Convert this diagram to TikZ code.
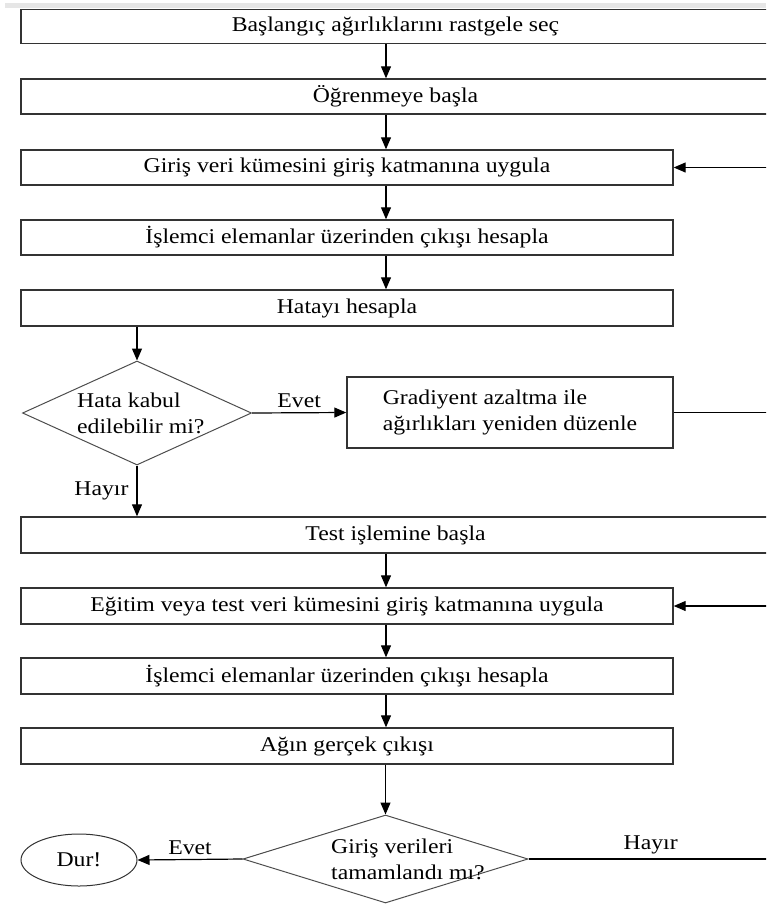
\documentclass[tikz,border=0pt]{standalone}
\usepackage{fontspec}
\setmainfont[FakeStretch=1.13]{Liberation Serif}
\usepackage{xcolor}
\usepackage{tikz}
\usetikzlibrary{positioning, arrows.meta, shapes.geometric, calc}
\definecolor{boxborder}{HTML}{333333}
\definecolor{diamondline}{HTML}{4D4D4D}
\definecolor{topstrip}{HTML}{E6E6E6}

\begin{document}
\begin{tikzpicture}[x=1pt, y=-1pt,
    font=\fontsize{21}{26}\selectfont,
    stepbox/.style={draw=boxborder, line width=1.4pt, minimum height=35pt, inner sep=0pt},
    widebox/.style={stepbox, minimum width=749pt},
    narrowbox/.style={stepbox, minimum width=652pt},
    decision/.style={draw=diamondline, diamond, line width=1pt, inner sep=0pt},
    dtext/.style={anchor=west, align=left, inner sep=0pt},
    flow/.style={draw, line width=1.2pt, -{Triangle[length=12pt, width=10pt]}},
    edgelabel/.style={inner sep=4pt}]
    \useasboundingbox (0,0) rectangle (766,907);
    \clip (0,0) rectangle (766,907);
    \fill[topstrip] (5,3.5) rectangle (766,8);

    \coordinate (spine) at (386,0);
    \coordinate (rloop) at (800,0);

    % training part
    \node[widebox, minimum height=34pt] (init) at (395.5,26.5) {Başlangıç ağırlıklarını rastgele seç};
    \node[widebox] (learn) at (395.5,96.5) {Öğrenmeye başla};
    \node[narrowbox] (applyin) at (347,167.5) {Giriş veri kümesini giriş katmanına uygula};
    \node[narrowbox] (compute) at (347,237.5) {İşlemci elemanlar üzerinden çıkışı hesapla};
    \node[narrowbox, minimum height=36pt] (error) at (347,308) {Hatayı hesapla};
    \node[decision, minimum width=229pt, minimum height=104pt] (errok) at (137,413) {};
    \node[dtext] (errtxt) at (77,413) {Hata kabul\\edilebilir mi?};
    \node[stepbox, minimum width=326pt, minimum height=71pt, align=left] (update) at (510,412.5)
        {Gradiyent azaltma ile\\ağırlıkları yeniden düzenle};

    % test part
    \node[widebox, minimum height=36pt] (test) at (395.5,535) {Test işlemine başla};
    \node[narrowbox, minimum height=36pt] (applytest) at (347,606) {Eğitim veya test veri kümesini giriş katmanına uygula};
    \node[narrowbox, minimum height=36pt] (computetest) at (347,676) {İşlemci elemanlar üzerinden çıkışı hesapla};
    \node[narrowbox, minimum height=36pt] (output) at (347,746) {Ağın gerçek çıkışı};
    \node[decision, minimum width=285pt, minimum height=88pt] (done) at (385.5,859) {};
    \node[dtext] (donetxt) at (331,859) {Giriş verileri\\tamamlandı mı?};
    \node[draw=boxborder, ellipse, line width=1pt, minimum width=116pt, minimum height=52pt, inner sep=0pt] (stop)
        at (79,860) {Dur!};

    \draw[flow] (init.south -| spine) -- (learn.north -| spine);
    \draw[flow] (learn.south -| spine) -- (applyin.north -| spine);
    \draw[flow] (applyin.south -| spine) -- (compute.north -| spine);
    \draw[flow] (compute.south -| spine) -- (error.north -| spine);
    \draw[flow] (error.south -| errok.north) -- (errok.north);
    \draw[flow] (errok.east) -- node[above, edgelabel] (yes1) {Evet} (update.west);
    \draw[flow] (update.east) -- (update.east -| rloop) |- (applyin.east);
    \draw[flow] (errok.south) -- node[left=8pt, edgelabel, inner sep=0pt] (no1) {Hayır} (test.north -| errok.south);
    \draw[flow] (test.south -| spine) -- (applytest.north -| spine);
    \draw[flow] (applytest.south -| spine) -- (computetest.north -| spine);
    \draw[flow] (computetest.south -| spine) -- (output.north -| spine);
    \draw[flow] (output.south -| done.north) -- (done.north);
    \draw[flow] (done.west) -- node[above, edgelabel] (yes2) {Evet} (stop.east);
    \draw[flow] (done.east) -- node[above, edgelabel, pos=0.45] (no2) {Hayır} (done.east -| rloop) |- (applytest.east);
\end{tikzpicture}
\end{document}
